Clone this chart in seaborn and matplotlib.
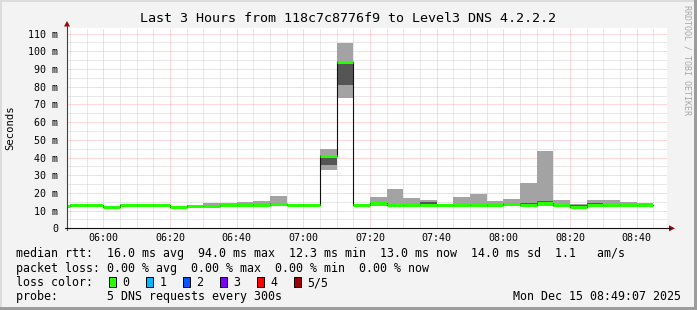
import matplotlib
matplotlib.use("Agg")
import numpy as np
import pandas as pd
import matplotlib.pyplot as plt
import seaborn as sns
from matplotlib.patches import Rectangle, Polygon
from matplotlib.transforms import Affine2D

# ---------------- data ----------------
bin_start = ["05:45", "05:50", "05:55", "06:00", "06:05", "06:10", "06:15", "06:20",
             "06:25", "06:30", "06:35", "06:40", "06:45", "06:50", "06:55", "07:00",
             "07:05", "07:10", "07:15", "07:20", "07:25", "07:30", "07:35", "07:40",
             "07:45", "07:50", "07:55", "08:00", "08:05", "08:10", "08:15", "08:20",
             "08:25", "08:30", "08:35", "08:40"]
ping1 = [12.1, 12.5, 12.5, 12.0, 12.6, 12.6, 12.6, 12.0, 12.4, 12.1, 12.6, 12.6,
         12.6, 12.8, 12.6, 12.6, 32.9, 73.5, 13.0, 12.7, 12.6, 12.6, 12.6, 12.6,
         12.6, 12.6, 12.3, 12.8, 12.2, 12.8, 12.6, 12.0, 12.6, 12.6, 12.6, 12.6]
ping2 = [12.2, 12.8, 12.7, 12.1, 12.8, 12.8, 12.8, 12.1, 12.6, 12.3, 12.8, 12.9,
         12.9, 13.1, 12.8, 12.8, 35.5, 81.2, 13.2, 13.1, 12.8, 12.8, 12.8, 12.8,
         12.8, 12.8, 12.6, 13.1, 12.5, 13.2, 12.8, 12.1, 12.8, 12.8, 12.8, 12.8]
median = [12.4, 13.0, 12.9, 12.3, 13.0, 13.0, 13.0, 12.3, 12.8, 12.5, 13.0, 13.1,
          13.1, 13.8, 13.0, 13.0, 40.6, 94.0, 13.3, 14.1, 13.0, 13.0, 13.0, 13.0,
          13.0, 13.0, 13.0, 13.8, 13.4, 14.3, 13.0, 12.3, 13.0, 13.0, 13.0, 13.0]
ping4 = [12.6, 13.2, 13.2, 12.5, 13.2, 13.2, 13.2, 12.5, 13.0, 12.8, 13.2, 13.4,
         13.5, 14.1, 13.2, 13.2, 41.2, 94.7, 13.5, 14.3, 13.2, 13.2, 14.8, 13.2,
         13.2, 13.2, 13.2, 14.1, 14.5, 15.5, 13.2, 13.4, 14.5, 13.2, 13.2, 13.2]
ping5 = [12.8, 13.5, 13.9, 12.7, 13.5, 13.5, 14.0, 12.7, 13.3, 14.3, 14.3, 15.0,
         15.6, 18.2, 13.5, 13.5, 44.7, 104.9, 13.7, 17.7, 22.2, 17.3, 15.8, 13.5,
         17.7, 19.6, 15.4, 16.6, 25.8, 43.6, 16.0, 13.7, 15.8, 15.8, 15.0, 14.5]

x_tick_labels = ["06:00", "06:20", "06:40", "07:00", "07:20", "07:40", "08:00", "08:20", "08:40"]
y_ticks = [0, 10, 20, 30, 40, 50, 60, 70, 80, 90, 100, 110]
y_tick_labels = ["0", "10 m", "20 m", "30 m", "40 m", "50 m", "60 m", "70 m",
                 "80 m", "90 m", "100 m", "110 m"]
loss_labels = ["0", "1", "2", "3", "4", "5/5"]
loss_colors = ["#26ff00", "#00b8ff", "#0059ff", "#7e00ff", "#ff0000", "#a00000"]

title = "Last 3 Hours from 118c7c8776f9 to Level3 DNS 4.2.2.2"
legend_lines = [
    "median rtt:  16.0 ms avg  94.0 ms max  12.3 ms min  13.0 ms now  14.0 ms sd  1.1   am/s",
    "packet loss: 0.00 % avg  0.00 % max  0.00 % min  0.00 % now",
    "loss color:",
    "probe:       5 DNS requests every 300s",
]
stamp = "Mon Dec 15 08:49:07 2025"
window = ("05:49:07", "08:49:07")


def to_min(s):
    parts = [int(p) for p in s.split(":")]
    v = parts[0] * 60 + parts[1]
    if len(parts) > 2:
        v += parts[2] / 60.0
    return v


df = pd.DataFrame({
    "start": [to_min(s) for s in bin_start],
    "p1": ping1, "p2": ping2, "med": median, "p4": ping4, "p5": ping5,
})
step = 5

# ---------------- figure ----------------
sns.set_theme(style="white")
plt.rcParams["font.family"] = ["DejaVu Sans Mono", "DejaVu Sans"]

W, H = 697, 310
bg = "#f3f3f3"
fig = plt.figure(figsize=(W / 100, H / 100), dpi=100, facecolor=bg)
px = Affine2D().scale(1.0 / W, -1.0 / H).translate(0, 1) + fig.transFigure

ax_left, ax_right, ax_top, ax_bot = 67, 667, 27.5, 228.3
ax = fig.add_axes([ax_left / W, 1 - ax_bot / H, (ax_right - ax_left) / W, (ax_bot - ax_top) / H])
ax.set_facecolor("white")

x0, x1 = to_min(window[0]), to_min(window[1])
ax.set_xlim(x0, x1)
ax.set_ylim(0, (ax_bot - ax_top) / 1.77)

# grid (1px dotted lines)
minor_c = "#d2d2d2"
major_c = "#ffb4b4"
dot = (0, (1, 1))
for m in np.arange(350, 530, 5):
    c = major_c if m % 20 == 0 else minor_c
    ax.axvline(m, color=c, lw=0.72, ls=dot, zorder=1, snap=True)
for v in np.arange(5, 114, 5):
    c = major_c if v % 10 == 0 else minor_c
    ax.axhline(v, color=c, lw=0.72, ls=dot, zorder=1, snap=True)

# smoke
ax.bar(df["start"], df["p5"] - df["p1"], bottom=df["p1"], width=step, align="edge",
       color="#a3a3a3", linewidth=0, zorder=2)
ax.bar(df["start"], df["p4"] - df["p2"], bottom=df["p2"], width=step, align="edge",
       color="#555555", linewidth=0, zorder=2.5)

# median step line (thin black) and loss-coloured median
step_df = pd.DataFrame({
    "t": list(df["start"]) + [df["start"].iloc[-1] + step],
    "v": list(df["med"]) + [df["med"].iloc[-1]],
})
sns.lineplot(data=step_df, x="t", y="v", drawstyle="steps-post", color="#111111",
             lw=0.8, estimator=None, sort=False, ax=ax, zorder=3)
ax.hlines(df["med"], df["start"], df["start"] + step, colors=loss_colors[0], lw=2.2, zorder=4)

# ticks
ax.set_xticks([to_min(s) for s in x_tick_labels])
ax.set_xticklabels(x_tick_labels)
ax.set_yticks(y_ticks)
ax.set_yticklabels(y_tick_labels)
ax.tick_params(axis="both", length=0, labelsize=7.2, colors="#000000")
ax.tick_params(axis="y", pad=6.2)
ax.tick_params(axis="x", pad=3.2)
ax.set_xlabel("")
ax.set_ylabel("")
for s in ax.spines.values():
    s.set_visible(False)

# axis lines with arrows
fig.add_artist(plt.Line2D([ax_left, ax_left], [ax_bot + 2, 24], transform=px, color="#404040", lw=0.8))
fig.add_artist(plt.Line2D([ax_left - 2, 670], [ax_bot, ax_bot], transform=px, color="#111111", lw=0.8))
fig.add_artist(Polygon([[ax_left - 3, 26.5], [ax_left + 3, 26.5], [ax_left, 21]], closed=True,
                       transform=px, color="#a00000", lw=0))
fig.add_artist(Polygon([[669, ax_bot - 3], [669, ax_bot + 3], [675, ax_bot]], closed=True,
                       transform=px, color="#a00000", lw=0))

# texts
fig.text(348.5, 19, title, transform=px, ha="center", va="center", fontsize=9.6, color="#000000")
fig.text(10.5, 127.5, "Seconds", transform=px, ha="center", va="center", rotation=90,
         fontsize=7.6, color="#000000")
fig.text(687, 60, "RRDTOOL / TOBI OETIKER", transform=px, ha="center", va="center",
         rotation=270, fontsize=6.0, color="#a8a8a8")

baselines = [257.5, 271.8, 286.0, 300.0]
for txt, yb in zip(legend_lines, baselines):
    fig.text(16, yb, txt, transform=px, ha="left", va="baseline", fontsize=8.4, color="#000000")
fig.text(681, baselines[3], stamp, transform=px, ha="right", va="baseline", fontsize=8.4,
         color="#000000")

for i, (lab, col) in enumerate(zip(loss_labels, loss_colors)):
    bx = 108.5 + i * 37.0
    fig.add_artist(Rectangle((bx, 276.5), 7.5, 10, transform=px, facecolor=col,
                             edgecolor="#000000", lw=0.7))
    fig.text(bx + 14, baselines[2], lab, transform=px, ha="left", va="baseline",
             fontsize=8.4, color="#000000")

# frame shading
fig.add_artist(Rectangle((0, 0), W, 1.5, transform=px, facecolor="#dcdcdc", lw=0))
fig.add_artist(Rectangle((0, 0), 1.5, H, transform=px, facecolor="#dcdcdc", lw=0))
fig.add_artist(Rectangle((W - 3, 0), 3, H, transform=px, facecolor="#9c9c9c", lw=0))
fig.add_artist(Rectangle((0, H - 3), W, 3, transform=px, facecolor="#9c9c9c", lw=0))

fig.savefig("out.png", dpi=100, facecolor=bg)
